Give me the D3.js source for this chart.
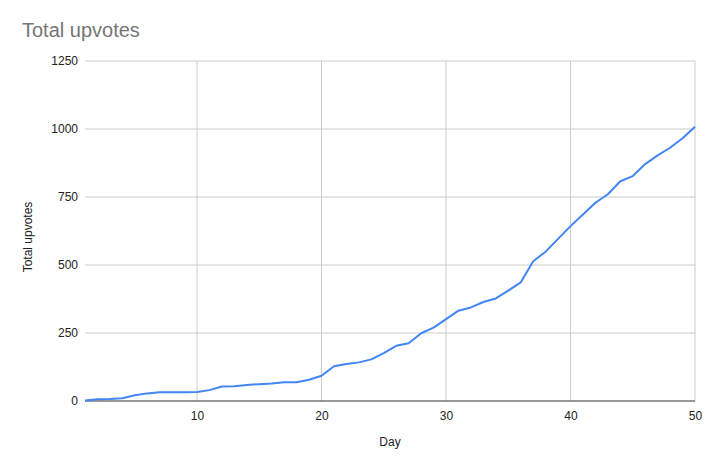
<!DOCTYPE html>
<html>
<head>
<meta charset="utf-8">
<script src="https://cdn.jsdelivr.net/npm/d3@7"></script>
<style>
  body { margin: 0; background: #fff; }
  text { font-family: "Liberation Sans", Arial, sans-serif; }
</style>
</head>
<body>
<svg id="chart" width="715" height="470"></svg>
<script>

const days = d3.range(1, 51);
const upvotes = [
  2, 6, 7, 10, 21, 28, 32, 32, 32, 33,
  40, 53, 54, 59, 62, 64, 69, 69, 78, 93,
  128, 136, 142, 153, 176, 203, 212, 249, 270, 301,
  332, 344, 364, 377, 406, 436, 514, 549, 596, 643,
  686, 729, 760, 808, 827, 871, 903, 931, 966, 1008
];
const xTicks = [10, 20, 30, 40, 50];
const yTicks = [0, 250, 500, 750, 1000, 1250];

const svg = d3.select("#chart"),
      margin = {top: 61, right: 20, bottom: 69, left: 85},
      width = 715 - margin.left - margin.right,
      height = 470 - margin.top - margin.bottom;

let x = d3.scaleLinear().domain([1, 50]).range([0, width]),
    y = d3.scaleLinear().domain([0, 1250]).range([height, 0]);

let g = svg.append("g")
  .attr("transform", `translate(${margin.left},${margin.top})`);

// grid
g.append("g").classed("grid-y", true)
  .selectAll("line")
  .data(yTicks.filter(d => d > 0))
  .enter().append("line")
    .attr("x1", 0).attr("x2", width)
    .attr("y1", d => y(d)).attr("y2", d => y(d))
    .attr("stroke", "#cccccc");

g.append("g").classed("grid-x", true)
  .selectAll("line")
  .data(xTicks)
  .enter().append("line")
    .attr("x1", d => x(d)).attr("x2", d => x(d))
    .attr("y1", 0).attr("y2", height)
    .attr("stroke", "#cccccc");

// axes (labels only)
let xAxis = g.append("g")
  .attr("transform", `translate(0,${height})`)
  .call(d3.axisBottom(x).tickValues(xTicks).tickFormat(d3.format("d")).tickSize(0).tickPadding(10));
xAxis.select(".domain").remove();

let yAxis = g.append("g")
  .call(d3.axisLeft(y).tickValues(yTicks).tickFormat(d3.format("d")).tickSize(0).tickPadding(7));
yAxis.select(".domain").remove();

svg.selectAll(".tick text")
  .attr("font-family", "\"Liberation Sans\", Arial, sans-serif")
  .attr("font-size", 12)
  .attr("fill", "#222");

// baseline
g.append("line")
  .attr("x1", 0).attr("x2", width)
  .attr("y1", y(0)).attr("y2", y(0))
  .attr("stroke", "#333333")
  .attr("stroke-width", 1.2);

// series
let line = d3.line()
  .x((d, i) => x(days[i]))
  .y(d => y(d));

g.append("path")
  .datum(upvotes)
  .attr("fill", "none")
  .attr("stroke", "#4285f4")
  .attr("stroke-width", 2)
  .attr("stroke-linejoin", "round")
  .attr("d", line);

// titles
svg.append("text")
  .attr("x", 22).attr("y", 37)
  .attr("font-size", 20)
  .attr("fill", "#757575")
  .text("Total upvotes");

svg.append("text")
  .attr("x", margin.left + width / 2).attr("y", 446)
  .attr("text-anchor", "middle")
  .attr("font-size", 12)
  .attr("fill", "#222")
  .text("Day");

svg.append("text")
  .attr("transform", `translate(32,${margin.top + height / 2 + 6}) rotate(-90)`)
  .attr("text-anchor", "middle")
  .attr("font-size", 12)
  .attr("fill", "#222")
  .text("Total upvotes");

</script>
</body>
</html>
